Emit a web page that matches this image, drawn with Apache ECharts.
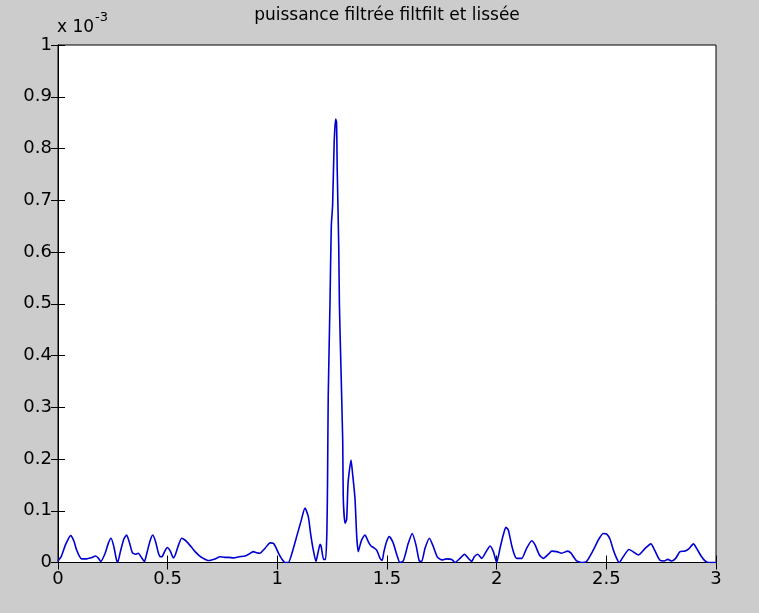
<!DOCTYPE html>
<html>
<head>
<meta charset="utf-8">
<script src="https://cdn.jsdelivr.net/npm/echarts@6/dist/echarts.min.js"></script>
<style>
  html, body { margin: 0; padding: 0; background: #cccccc; }
  #chart { width: 759px; height: 613px; }
</style>
</head>
<body>
<div id="chart"></div>
<script>
// Frequency axis (Hz) and smoothed filtered power (in units of 1e-3)
const freq = [
  0.000, 0.015, 0.035, 0.058, 0.072, 0.085, 0.098, 0.108, 0.130, 0.150,
  0.172, 0.185, 0.195, 0.215, 0.230, 0.242, 0.255, 0.265, 0.272, 0.285,
  0.300, 0.313, 0.326, 0.339, 0.352, 0.366, 0.380, 0.394, 0.405, 0.420,
  0.432, 0.445, 0.458, 0.468, 0.476, 0.487, 0.498, 0.512, 0.526, 0.535,
  0.548, 0.564, 0.580, 0.594, 0.610, 0.625, 0.645, 0.663, 0.685, 0.700,
  0.716, 0.739, 0.760, 0.777, 0.800, 0.825, 0.853, 0.870, 0.890, 0.905,
  0.920, 0.945, 0.967, 0.982, 0.995, 1.005, 1.020, 1.035, 1.050, 1.068,
  1.088, 1.108, 1.126, 1.141, 1.152, 1.164, 1.176, 1.186, 1.195, 1.200,
  1.211, 1.220, 1.226, 1.229, 1.232, 1.240, 1.246, 1.252, 1.259, 1.266,
  1.270, 1.273, 1.280, 1.283, 1.288, 1.298, 1.301, 1.309, 1.316, 1.322,
  1.328, 1.336, 1.343, 1.354, 1.362, 1.369, 1.378, 1.385, 1.400, 1.415,
  1.427, 1.438, 1.453, 1.468, 1.478, 1.486, 1.498, 1.510, 1.529, 1.545,
  1.559, 1.574, 1.585, 1.597, 1.615, 1.632, 1.647, 1.658, 1.673, 1.693,
  1.711, 1.729, 1.749, 1.772, 1.795, 1.810, 1.833, 1.853, 1.871, 1.886,
  1.898, 1.914, 1.932, 1.952, 1.970, 1.985, 2.000, 2.015, 2.030, 2.042,
  2.053, 2.068, 2.080, 2.091, 2.114, 2.136, 2.160, 2.175, 2.195, 2.213,
  2.236, 2.251, 2.274, 2.296, 2.324, 2.339, 2.352, 2.365, 2.388, 2.410,
  2.433, 2.450, 2.464, 2.486, 2.502, 2.517, 2.532, 2.547, 2.558, 2.577,
  2.603, 2.618, 2.646, 2.676, 2.703, 2.720, 2.743, 2.764, 2.780, 2.798,
  2.816, 2.836, 2.859, 2.877, 2.897, 2.912, 2.932, 2.950, 2.965, 3.000
];
const power = [
  0.003, 0.012, 0.035, 0.052, 0.042, 0.024, 0.012, 0.007, 0.007, 0.009,
  0.0125, 0.008, 0.002, 0.018, 0.038, 0.047, 0.030, 0.008, 0.000, 0.022,
  0.045, 0.053, 0.038, 0.019, 0.016, 0.018, 0.010, 0.002, 0.018, 0.042,
  0.053, 0.040, 0.018, 0.011, 0.012, 0.022, 0.029, 0.022, 0.009, 0.015,
  0.032, 0.047, 0.043, 0.037, 0.029, 0.021, 0.013, 0.008, 0.004, 0.005,
  0.007, 0.011, 0.010, 0.010, 0.009, 0.011, 0.0125, 0.016, 0.021, 0.019,
  0.018, 0.028, 0.038, 0.037, 0.028, 0.018, 0.007, 0.000, 0.000, 0.020,
  0.050, 0.080, 0.105, 0.089, 0.055, 0.024, 0.002, 0.020, 0.035, 0.031,
  0.006, 0.006, 0.060, 0.160, 0.320, 0.500, 0.650, 0.690, 0.810, 0.857,
  0.850, 0.760, 0.610, 0.500, 0.410, 0.237, 0.120, 0.076, 0.083, 0.150,
  0.176, 0.198, 0.172, 0.124, 0.050, 0.021, 0.035, 0.044, 0.053, 0.040,
  0.032, 0.029, 0.024, 0.008, 0.004, 0.021, 0.040, 0.050, 0.037, 0.0145,
  0.000, 0.003, 0.018, 0.037, 0.056, 0.034, 0.003, 0.002, 0.027, 0.047,
  0.031, 0.011, 0.005, 0.007, 0.006, 0.000, 0.008, 0.016, 0.008, 0.002,
  0.011, 0.016, 0.008, 0.021, 0.032, 0.021, 0.000, 0.027, 0.053, 0.068,
  0.063, 0.034, 0.016, 0.008, 0.008, 0.027, 0.042, 0.034, 0.0145, 0.008,
  0.016, 0.022, 0.021, 0.018, 0.022, 0.018, 0.010, 0.003, 0.000, 0.002,
  0.018, 0.032, 0.044, 0.056, 0.055, 0.045, 0.024, 0.008, 0.000, 0.011,
  0.025, 0.022, 0.0145, 0.027, 0.036, 0.024, 0.005, 0.003, 0.006, 0.003,
  0.008, 0.021, 0.022, 0.027, 0.036, 0.027, 0.0125, 0.003, 0.000, 0.000
];
const xTicks = [0, 0.5, 1, 1.5, 2, 2.5, 3];
const yTicks = [0, 0.1, 0.2, 0.3, 0.4, 0.5, 0.6, 0.7, 0.8, 0.9, 1];
const titleText = 'puissance filtrée filtfilt et lissée';

const FONT = '"DejaVu Sans", Arial, sans-serif';
const chart = echarts.init(document.getElementById('chart'), null, { renderer: 'canvas' });

const tickStyle = { show: true, inside: true, length: 7, lineStyle: { color: '#000', width: 1 } };
const lineStyle = { show: true, lineStyle: { color: '#000', width: 1 } };
const labelStyle = { color: '#000', fontFamily: FONT, fontSize: 18 };

chart.setOption({
  backgroundColor: '#cccccc',
  animation: false,
  grid: {
    left: 58, top: 45, width: 658, height: 517.5,
    show: true, backgroundColor: '#ffffff', borderColor: '#000', borderWidth: 1
  },
  graphic: [
    { type: 'text', x: 387, y: 16, style: { text: titleText, textAlign: 'center', textVerticalAlign: 'middle', font: '17px ' + FONT, fill: '#000' } },
    { type: 'text', x: 57, y: 28, style: { text: 'x 10', textAlign: 'left', textVerticalAlign: 'middle', font: '17px ' + FONT, fill: '#000' } },
    { type: 'text', x: 95, y: 18, style: { text: '-3', textAlign: 'left', textVerticalAlign: 'middle', font: '13px ' + FONT, fill: '#000' } }
  ],
  xAxis: [
    {
      type: 'value', min: xTicks[0], max: xTicks[xTicks.length - 1], interval: 0.5,
      axisLine: lineStyle, axisTick: tickStyle, splitLine: { show: false },
      axisLabel: Object.assign({ margin: 8, formatter: v => String(v) }, labelStyle)
    },
    {
      type: 'value', position: 'top', min: 0, max: 3, interval: 0.5,
      axisLine: lineStyle, axisTick: tickStyle, splitLine: { show: false },
      axisLabel: { show: false }
    }
  ],
  yAxis: [
    {
      type: 'value', min: yTicks[0], max: yTicks[yTicks.length - 1], interval: 0.1,
      axisLine: lineStyle, axisTick: tickStyle, splitLine: { show: false },
      axisLabel: Object.assign({ margin: 6, formatter: v => String(Math.round(v * 10) / 10) }, labelStyle)
    },
    {
      type: 'value', position: 'right', min: 0, max: 1, interval: 0.1,
      axisLine: lineStyle, axisTick: tickStyle, splitLine: { show: false },
      axisLabel: { show: false }
    }
  ],
  series: [{
    type: 'line',
    xAxisIndex: 0, yAxisIndex: 0,
    data: freq.map((f, i) => [f, power[i]]),
    showSymbol: false,
    smooth: 0.2,
    lineStyle: { color: '#0000d0', width: 1.6 }
  }]
});
</script>
</body>
</html>
